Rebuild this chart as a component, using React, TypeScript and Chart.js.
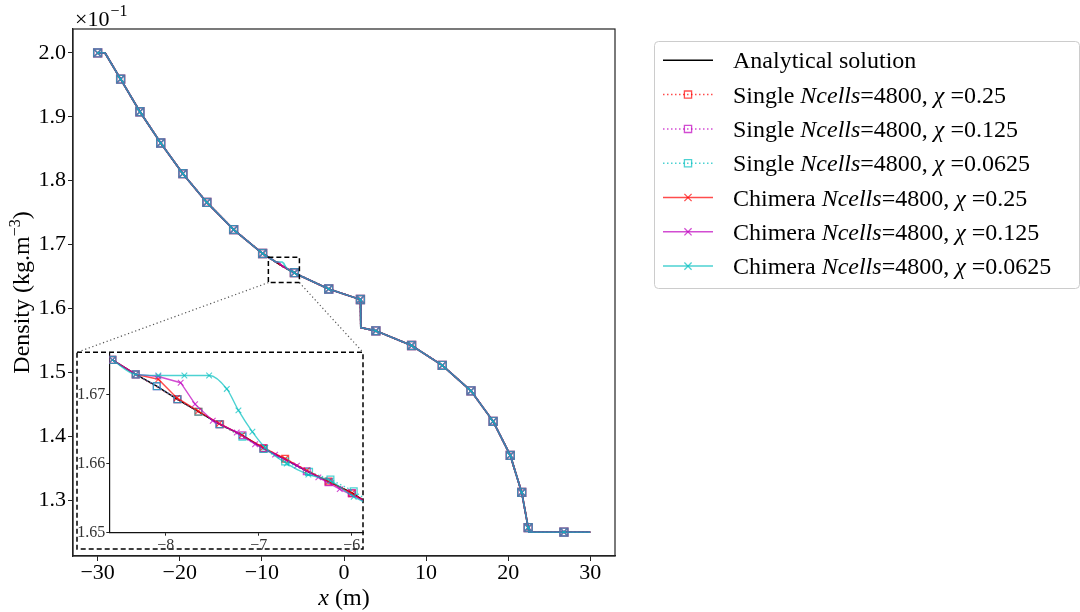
import React, { useEffect, useRef } from 'react';
import { Chart, registerables } from 'chart.js';
Chart.register(...registerables);

const FONT = '"Liberation Serif", "Times New Roman", serif';

// ---------------- main plot (density values shown ×10^-1) ----------------
const anaX = [-30, -29.1, -27.2, -24.85, -22.32, -19.62, -16.7, -13.44, -9.91, -1.86, 2.0, 2.05, 3.88, 8.23, 11.97, 15.46, 18.16, 20.25, 21.64, 22.43, 22.52, 30];
const anaY = [2.0, 2.0, 1.959, 1.908, 1.859, 1.811, 1.766, 1.7235, 1.686, 1.6305, 1.614, 1.570, 1.565, 1.542, 1.511, 1.471, 1.4233, 1.370, 1.312, 1.257, 1.25, 1.25];

const markX = [-30, -27.2, -24.85, -22.32, -19.62, -16.7, -13.44, -9.91, -6.04, -1.86, 2.0, 3.88, 8.23, 11.97, 15.46, 18.16, 20.25, 21.64, 22.43, 26.78];
const markY = [2.0, 1.959, 1.908, 1.859, 1.811, 1.766, 1.7235, 1.686, 1.656, 1.6305, 1.614, 1.565, 1.542, 1.511, 1.471, 1.4233, 1.370, 1.312, 1.257, 1.25];

const mainXTicks = [-30, -20, -10, 0, 10, 20, 30];
const mainYTicks = [1.3, 1.4, 1.5, 1.6, 1.7, 1.8, 1.9, 2.0];

const zoomBoxX = [-9.21, -5.43];
const zoomBoxY = [1.6405, 1.680];

// ---------------- inset (zoom on -8.6 .. -5.9) ----------------
const insetAnaX = [-8.574, -8.323, -8.097, -7.875, -7.649, -7.424, -7.176, -6.95, -6.717, -6.484, -6.25, -6.0, -5.857];
const insetAnaY = [1.6750, 1.6729, 1.6712, 1.6693, 1.6675, 1.6657, 1.6641, 1.6622, 1.6606, 1.6589, 1.6574, 1.6558, 1.6545];

const single025X = [-8.574, -8.323, -7.875, -7.649, -7.416, -6.95, -6.717, -6.25, -6.0, -5.857];
const single025Y = [1.6750, 1.6729, 1.6693, 1.6675, 1.6657, 1.6622, 1.6607, 1.6574, 1.6557, 1.6546];
const single0125X = [-8.574, -8.323, -8.097, -7.875, -7.424, -7.176, -6.95, -6.484, -6.25, -6.0, -5.857];
const single0125Y = [1.6750, 1.6729, 1.6712, 1.6693, 1.6657, 1.6641, 1.6622, 1.6589, 1.6573, 1.6557, 1.6546];
const single00625X = [-8.574, -8.323, -8.097, -7.875, -7.649, -7.424, -7.176, -6.95, -6.717, -6.46, -6.23, -5.98, -5.857];
const single00625Y = [1.6750, 1.6729, 1.6712, 1.6693, 1.6675, 1.6657, 1.6639, 1.6621, 1.6603, 1.6588, 1.6577, 1.6560, 1.6549];

const chim025X = [-8.574, -8.323, -8.08, -7.88, -7.65, -7.424, -7.18, -6.95, -6.717, -6.484, -6.25, -6.0, -5.857];
const chim025Y = [1.6750, 1.6729, 1.6722, 1.6695, 1.6676, 1.6658, 1.6641, 1.6623, 1.6607, 1.6590, 1.6574, 1.6557, 1.6545];
const chim0125X = [-8.574, -8.323, -8.08, -7.84, -7.685, -7.495, -7.237, -7.04, -6.825, -6.59, -6.36, -6.13, -5.857];
const chim0125Y = [1.6750, 1.6729, 1.6726, 1.6717, 1.6686, 1.6662, 1.6645, 1.6628, 1.6613, 1.6597, 1.6580, 1.6563, 1.6545];
const chim00625X = [-8.574, -8.323, -8.08, -7.80, -7.534, -7.344, -7.219, -7.069, -6.93, -6.70, -6.467, -6.23, -5.98, -5.857];
const chim00625Y = [1.6750, 1.6729, 1.67275, 1.67275, 1.67275, 1.6708, 1.6677, 1.6646, 1.6623, 1.6600, 1.6584, 1.6575, 1.6552, 1.6544];

const insetXTicks = [-8, -7, -6];
const insetYTicks = [1.65, 1.66, 1.67];

const RED = 'rgba(255,0,0,0.7)';
const MAG = 'rgba(191,0,191,0.7)';
const CYA = 'rgba(0,191,191,0.7)';

type Seg = [string, boolean];
const legendLabels: Seg[][] = [
  [['Analytical solution', false]],
  [['Single ', false], ['Ncells', true], ['=4800, ', false], ['χ', true], [' =0.25', false]],
  [['Single ', false], ['Ncells', true], ['=4800, ', false], ['χ', true], [' =0.125', false]],
  [['Single ', false], ['Ncells', true], ['=4800, ', false], ['χ', true], [' =0.0625', false]],
  [['Chimera ', false], ['Ncells', true], ['=4800, ', false], ['χ', true], [' =0.25', false]],
  [['Chimera ', false], ['Ncells', true], ['=4800, ', false], ['χ', true], [' =0.125', false]],
  [['Chimera ', false], ['Ncells', true], ['=4800, ', false], ['χ', true], [' =0.0625', false]],
];
const legendColors = ['#000', RED, MAG, CYA, RED, MAG, CYA];
const legendDotted = [false, true, true, true, false, false, false];
const legendMarker = [null, 'rect', 'rect', 'rect', 'cross', 'cross', 'cross'];

const pts = (xs: number[], ys: number[]) => xs.map((x, i) => ({ x, y: ys[i] }));

function mergeMain(ix: number[], iy: number[]) {
  const out: { x: number; y: number }[] = [];
  anaX.forEach((x, i) => { if (x < ix[0]) out.push({ x, y: anaY[i] }); });
  ix.forEach((x, i) => out.push({ x, y: iy[i] }));
  anaX.forEach((x, i) => { if (x > ix[ix.length - 1]) out.push({ x, y: anaY[i] }); });
  return out;
}

const fmtMinus = (v: number, d: number) => (v < 0 ? '\u2212' : '') + Math.abs(v).toFixed(d);

function lineDs(data: any[], color: string, dotted: boolean, smooth: boolean, extra: any = {}) {
  const base: any = {
    type: 'line', data, borderColor: color, borderWidth: 1.7,
    borderDash: dotted ? [1.5, 2.5] : [], pointRadius: 0, fill: false, tension: 0,
  };
  if (smooth) base.cubicInterpolationMode = 'monotone';
  return { ...base, ...extra };
}
function markDs(data: any[], color: string, style: string, r: number) {
  return {
    type: 'line', data, showLine: false, pointStyle: style, pointRadius: r,
    pointBorderColor: color, pointBackgroundColor: 'rgba(0,0,0,0)', pointBorderWidth: 1.4,
  };
}

function drawMarker(ctx: CanvasRenderingContext2D, kind: string | null, x: number, y: number, color: string) {
  if (!kind) return;
  ctx.save();
  ctx.setLineDash([]);
  ctx.strokeStyle = color;
  ctx.lineWidth = 1.3;
  ctx.beginPath();
  if (kind === 'rect') {
    ctx.rect(x - 3.6, y - 3.6, 7.2, 7.2);
  } else {
    ctx.moveTo(x - 3.6, y - 3.6); ctx.lineTo(x + 3.6, y + 3.6);
    ctx.moveTo(x + 3.6, y - 3.6); ctx.lineTo(x - 3.6, y + 3.6);
  }
  ctx.stroke();
  ctx.restore();
}

const INSET = { left: 70, top: 340, width: 302, height: 220 };
const insetBox = { left: 77, top: 352.3, right: 363, bottom: 549 };

const mainDecor = {
  id: 'mainDecor',
  afterDraw(chart: any) {
    const { ctx, chartArea: a, scales } = chart;
    const sx = scales.x, sy = scales.y;
    ctx.save();
    ctx.setLineDash([]);
    ctx.strokeStyle = '#222';
    ctx.lineWidth = 1.2;
    ctx.strokeRect(a.left, a.top, a.right - a.left, a.bottom - a.top);

    const zx0 = sx.getPixelForValue(zoomBoxX[0]);
    const zx1 = sx.getPixelForValue(zoomBoxX[1]);
    const zy0 = sy.getPixelForValue(zoomBoxY[0]);
    const zy1 = sy.getPixelForValue(zoomBoxY[1]);
    ctx.strokeStyle = '#000';
    ctx.lineWidth = 1.5;
    ctx.setLineDash([5, 3]);
    ctx.strokeRect(zx0, zy1, zx1 - zx0, zy0 - zy1);
    ctx.strokeRect(insetBox.left, insetBox.top, insetBox.right - insetBox.left, insetBox.bottom - insetBox.top);

    ctx.setLineDash([1.2, 2.6]);
    ctx.strokeStyle = '#555';
    ctx.lineWidth = 1.2;
    ctx.beginPath();
    ctx.moveTo(zx0, zy0); ctx.lineTo(insetBox.left, insetBox.top);
    ctx.moveTo(zx1, zy0); ctx.lineTo(insetBox.right, insetBox.top);
    ctx.stroke();
    ctx.setLineDash([]);

    // ×10^-1
    ctx.fillStyle = '#000';
    ctx.textBaseline = 'alphabetic';
    ctx.textAlign = 'left';
    ctx.font = `22px ${FONT}`;
    ctx.fillText('\u00d710', 75, 26);
    const w10 = ctx.measureText('\u00d710').width;
    ctx.font = `16px ${FONT}`;
    ctx.fillText('\u22121', 75 + w10 + 1, 16);

    // x label
    ctx.font = `italic 24px ${FONT}`;
    const wx = ctx.measureText('x').width;
    ctx.font = `24px ${FONT}`;
    const wm = ctx.measureText(' (m)').width;
    const cx = (a.left + a.right) / 2;
    const px = cx - (wx + wm) / 2;
    ctx.font = `italic 24px ${FONT}`;
    ctx.fillText('x', px, 605);
    ctx.font = `24px ${FONT}`;
    ctx.fillText(' (m)', px + wx, 605);

    // y label (rotated)
    ctx.save();
    ctx.translate(29, (a.top + a.bottom) / 2);
    ctx.rotate(-Math.PI / 2);
    ctx.font = `24px ${FONT}`;
    const t1 = 'Density (kg.m';
    const w1 = ctx.measureText(t1).width;
    ctx.font = `16px ${FONT}`;
    const w2 = ctx.measureText('\u22123').width;
    ctx.font = `24px ${FONT}`;
    const w3 = ctx.measureText(')').width;
    const p = -(w1 + w2 + w3) / 2;
    ctx.fillText(t1, p, 0);
    ctx.font = `16px ${FONT}`;
    ctx.fillText('\u22123', p + w1, -9);
    ctx.font = `24px ${FONT}`;
    ctx.fillText(')', p + w1 + w2, 0);
    ctx.restore();

    // legend
    ctx.fillStyle = '#fff';
    ctx.strokeStyle = 'rgba(204,204,204,1)';
    ctx.lineWidth = 1;
    ctx.beginPath();
    (ctx as any).roundRect(654.5, 41.5, 425, 247, 4);
    ctx.fill();
    ctx.stroke();
    legendLabels.forEach((segs, i) => {
      const ry = 60.3 + i * 34.3;
      const col = legendColors[i];
      ctx.strokeStyle = col;
      ctx.lineWidth = 1.5;
      ctx.setLineDash(legendDotted[i] ? [1.5, 2.5] : []);
      ctx.beginPath();
      ctx.moveTo(663, ry); ctx.lineTo(713, ry);
      ctx.stroke();
      ctx.setLineDash([]);
      drawMarker(ctx, legendMarker[i], 688, ry, col);
      let tx = 733;
      ctx.fillStyle = '#000';
      segs.forEach(([t, it]) => {
        ctx.font = `${it ? 'italic ' : ''}24px ${FONT}`;
        ctx.fillText(t, tx, ry + 8);
        tx += ctx.measureText(t).width;
      });
    });
    ctx.restore();
  },
};

function buildMainDatasets() {
  const ds: any[] = [];
  ds.push(lineDs(mergeMain(insetAnaX, insetAnaY), '#000', false, false));
  const singles = [[single025X, single025Y, RED], [single0125X, single0125Y, MAG], [single00625X, single00625Y, CYA]] as any[];
  singles.forEach(([x, y, c]) => {
    ds.push(lineDs(mergeMain(x, y), c, true, false));
    ds.push(markDs(pts(markX, markY), c, 'rect', 5.6));
  });
  const chims = [[chim025X, chim025Y, RED], [chim0125X, chim0125Y, MAG], [chim00625X, chim00625Y, CYA]] as any[];
  chims.forEach(([x, y, c]) => {
    ds.push(lineDs(mergeMain(x, y), c, false, false));
    ds.push(markDs(pts(markX, markY), c, 'crossRot', 5.2));
  });
  return ds.reverse();
}

function buildInsetDatasets() {
  const ds: any[] = [];
  ds.push(lineDs(pts(insetAnaX, insetAnaY), '#000', false, false, { borderWidth: 1.4 }));
  const singles = [[single025X, single025Y, RED], [single0125X, single0125Y, MAG], [single00625X, single00625Y, CYA]] as any[];
  singles.forEach(([x, y, c]) => {
    const n = x.length;
    ds.push(lineDs(pts(x, y), c, true, false, {
      borderWidth: 1.4,
      pointStyle: 'rect', pointBorderColor: c, pointBackgroundColor: 'rgba(0,0,0,0)', pointBorderWidth: 1.3,
      pointRadius: (ctx: any) => (ctx.dataIndex === n - 1 ? 0 : 4.8),
    }));
  });
  const chims = [[chim025X, chim025Y, RED, false], [chim0125X, chim0125Y, MAG, false], [chim00625X, chim00625Y, CYA, true]] as any[];
  chims.forEach(([x, y, c, smooth]) => {
    const n = x.length;
    ds.push(lineDs(pts(x, y), c, false, smooth, {
      borderWidth: 1.4,
      pointStyle: 'crossRot', pointBorderColor: c, pointBorderWidth: 1.1,
      pointRadius: (ctx: any) => (ctx.dataIndex === n - 1 ? 0 : 4),
    }));
  });
  return ds.reverse();
}

export default function App() {
  const mainRef = useRef<HTMLCanvasElement>(null);
  const insetRef = useRef<HTMLCanvasElement>(null);

  useEffect(() => {
    const tickFont = { family: FONT, size: 22 };
    const main = new Chart(mainRef.current as HTMLCanvasElement, {
      type: 'line',
      data: { datasets: buildMainDatasets() },
      options: {
        responsive: false, animation: false, maintainAspectRatio: false,
        layout: { padding: { left: 0, top: 29, right: 465, bottom: 0 } },
        plugins: { legend: { display: false }, tooltip: { enabled: false } },
        scales: {
          x: {
            type: 'linear', min: -33, max: 33,
            afterBuildTicks: (s: any) => { s.ticks = mainXTicks.map((v) => ({ value: v })); },
            afterFit: (s: any) => { s.height = 56; },
            grid: { drawOnChartArea: false, drawTicks: true, tickLength: 5, color: '#222' },
            border: { color: '#222', width: 1.2 },
            ticks: { color: '#000', font: tickFont, padding: -1, maxRotation: 0, autoSkip: false, callback: (v: any) => fmtMinus(Number(v), 0) },
          },
          y: {
            type: 'linear', min: 1.2125, max: 2.0375,
            afterBuildTicks: (s: any) => { s.ticks = mainYTicks.map((v) => ({ value: v })); },
            afterFit: (s: any) => { s.width = 73; },
            grid: { drawOnChartArea: false, drawTicks: true, tickLength: 5, color: '#222' },
            border: { color: '#222', width: 1.2 },
            ticks: { color: '#000', font: tickFont, padding: 2, autoSkip: false, callback: (v: any) => Number(v).toFixed(1) },
          },
        },
      } as any,
      plugins: [mainDecor],
    });

    const smallFont = { family: FONT, size: 16 };
    const inset = new Chart(insetRef.current as HTMLCanvasElement, {
      type: 'line',
      data: { datasets: buildInsetDatasets() },
      options: {
        responsive: false, animation: false, maintainAspectRatio: false,
        layout: { padding: { left: 0, top: 12.3, right: 9, bottom: 0 } },
        plugins: { legend: { display: false }, tooltip: { enabled: false } },
        scales: {
          x: {
            type: 'linear', min: -8.607, max: -5.88,
            afterBuildTicks: (s: any) => { s.ticks = insetXTicks.map((v) => ({ value: v })); },
            afterFit: (s: any) => { s.height = 27.3; },
            grid: { drawOnChartArea: false, drawTicks: true, tickLength: 3, color: '#222' },
            border: { color: '#111', width: 1.2 },
            ticks: { color: '#333', font: smallFont, padding: 0, maxRotation: 0, autoSkip: false, callback: (v: any) => fmtMinus(Number(v), 0) },
          },
          y: {
            type: 'linear', min: 1.65, max: 1.6761,
            afterBuildTicks: (s: any) => { s.ticks = insetYTicks.map((v) => ({ value: v })); },
            afterFit: (s: any) => { s.width = 39.3; },
            grid: { drawOnChartArea: false, drawTicks: true, tickLength: 3, color: '#222' },
            border: { color: '#111', width: 1.2 },
            ticks: { color: '#333', font: smallFont, padding: 1, autoSkip: false, callback: (v: any) => Number(v).toFixed(2) },
          },
        },
      } as any,
    });

    return () => { main.destroy(); inset.destroy(); };
  }, []);

  return (
    <div style={{ position: 'fixed', left: 0, top: 0, width: 1080, height: 612, background: '#fff' }}>
      <canvas ref={mainRef} width={1080} height={612} style={{ position: 'absolute', left: 0, top: 0, width: 1080, height: 612 }} />
      <canvas ref={insetRef} width={INSET.width} height={INSET.height}
        style={{ position: 'absolute', left: INSET.left, top: INSET.top, width: INSET.width, height: INSET.height }} />
    </div>
  );
}
